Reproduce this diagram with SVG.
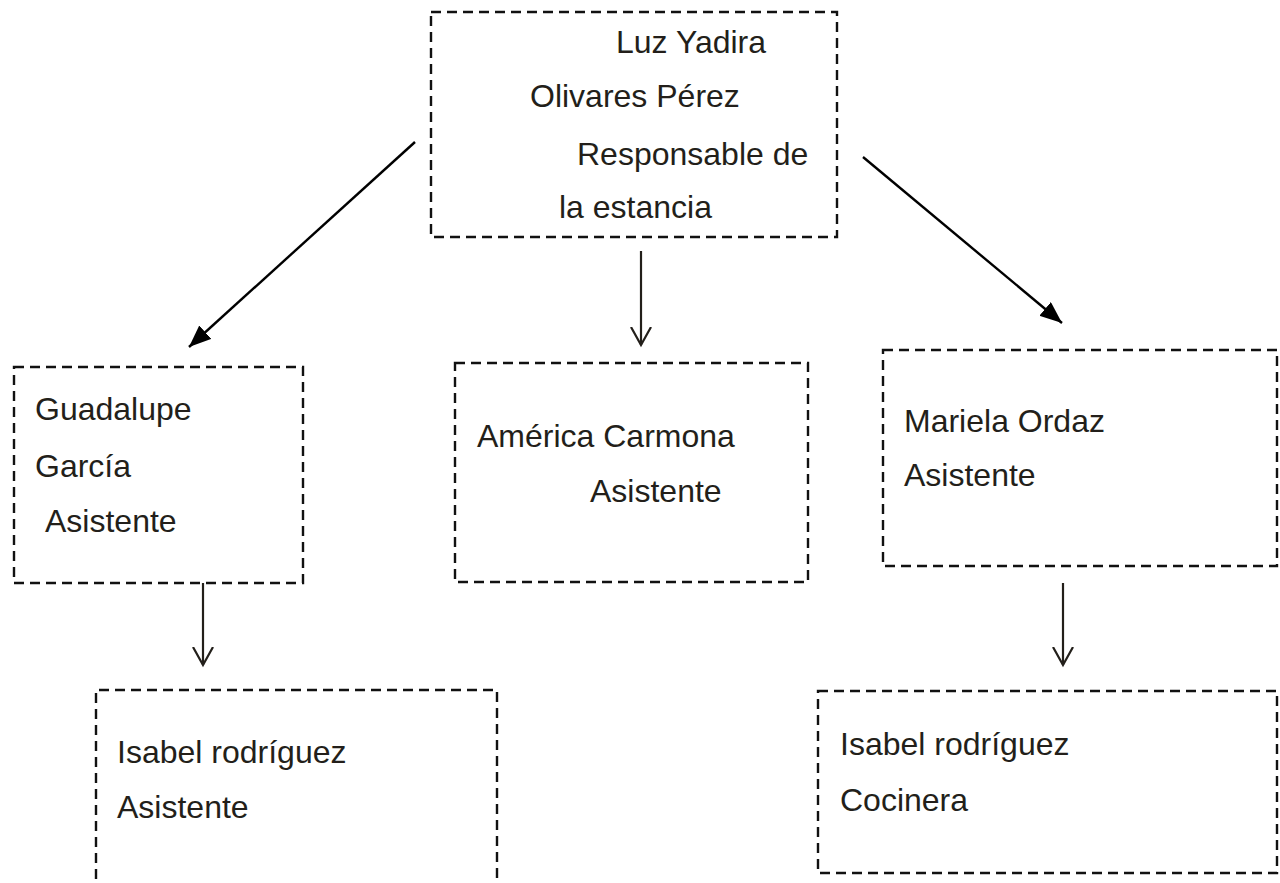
<svg xmlns="http://www.w3.org/2000/svg" width="1280" height="883" viewBox="0 0 1280 883">
<style>
.box{fill:none;stroke:#111;stroke-width:2.4;stroke-dasharray:10 6}
.t{font-family:"Liberation Sans",Arial,sans-serif;font-size:32px;fill:#231f1a}
.ln{stroke:#000;stroke-width:2.4;fill:none}
.lv{stroke:#231f1a;stroke-width:2.2;fill:none}
</style>
<defs>
<marker id="solid" markerUnits="userSpaceOnUse" markerWidth="24" markerHeight="20" refX="22" refY="9" orient="auto">
<path d="M0,0 L22,9 L0,18 Z" fill="#000"/>
</marker>
<marker id="open" markerUnits="userSpaceOnUse" markerWidth="22" markerHeight="24" refX="18" refY="11" orient="auto">
<path d="M0,1 L18,11 L0,21" fill="none" stroke="#231f1a" stroke-width="2.2"/>
</marker>
</defs>
<rect width="1280" height="883" fill="#fff"/>
<g id="connectors">
<line class="ln" x1="415" y1="142" x2="189" y2="347" marker-end="url(#solid)"/>
<line class="ln" x1="863" y1="157" x2="1062" y2="323" marker-end="url(#solid)"/>
<line class="lv" x1="641" y1="251" x2="641" y2="345" marker-end="url(#open)"/>
<line class="lv" x1="203" y1="583" x2="203" y2="665" marker-end="url(#open)"/>
<line class="lv" x1="1063" y1="583" x2="1063" y2="665" marker-end="url(#open)"/>
</g>
<g id="node-luz">
<rect class="box" x="431" y="12" width="406" height="225"/>
<text class="t" x="616" y="53">Luz Yadira</text>
<text class="t" x="530" y="107">Olivares Pérez</text>
<text class="t" x="577" y="165">Responsable de</text>
<text class="t" x="559" y="218">la estancia</text>
</g>
<g id="node-guadalupe">
<rect class="box" x="14" y="367" width="289" height="216"/>
<text class="t" x="35" y="420">Guadalupe</text>
<text class="t" x="35" y="477">García</text>
<text class="t" x="45" y="532">Asistente</text>
</g>
<g id="node-america">
<rect class="box" x="455" y="363" width="353" height="219"/>
<text class="t" x="477" y="447">América Carmona</text>
<text class="t" x="590" y="502">Asistente</text>
</g>
<g id="node-mariela">
<rect class="box" x="883" y="350" width="394" height="216"/>
<text class="t" x="904" y="432">Mariela Ordaz</text>
<text class="t" x="904" y="486">Asistente</text>
</g>
<g id="node-isabel-asistente">
<path class="box" d="M96,895 L96,690 L497,690 L497,895"/>
<text class="t" x="117" y="763">Isabel rodríguez</text>
<text class="t" x="117" y="818">Asistente</text>
</g>
<g id="node-isabel-cocinera">
<rect class="box" x="818" y="691" width="459" height="182"/>
<text class="t" x="840" y="755">Isabel rodríguez</text>
<text class="t" x="840" y="811">Cocinera</text>
</g>
</svg>
